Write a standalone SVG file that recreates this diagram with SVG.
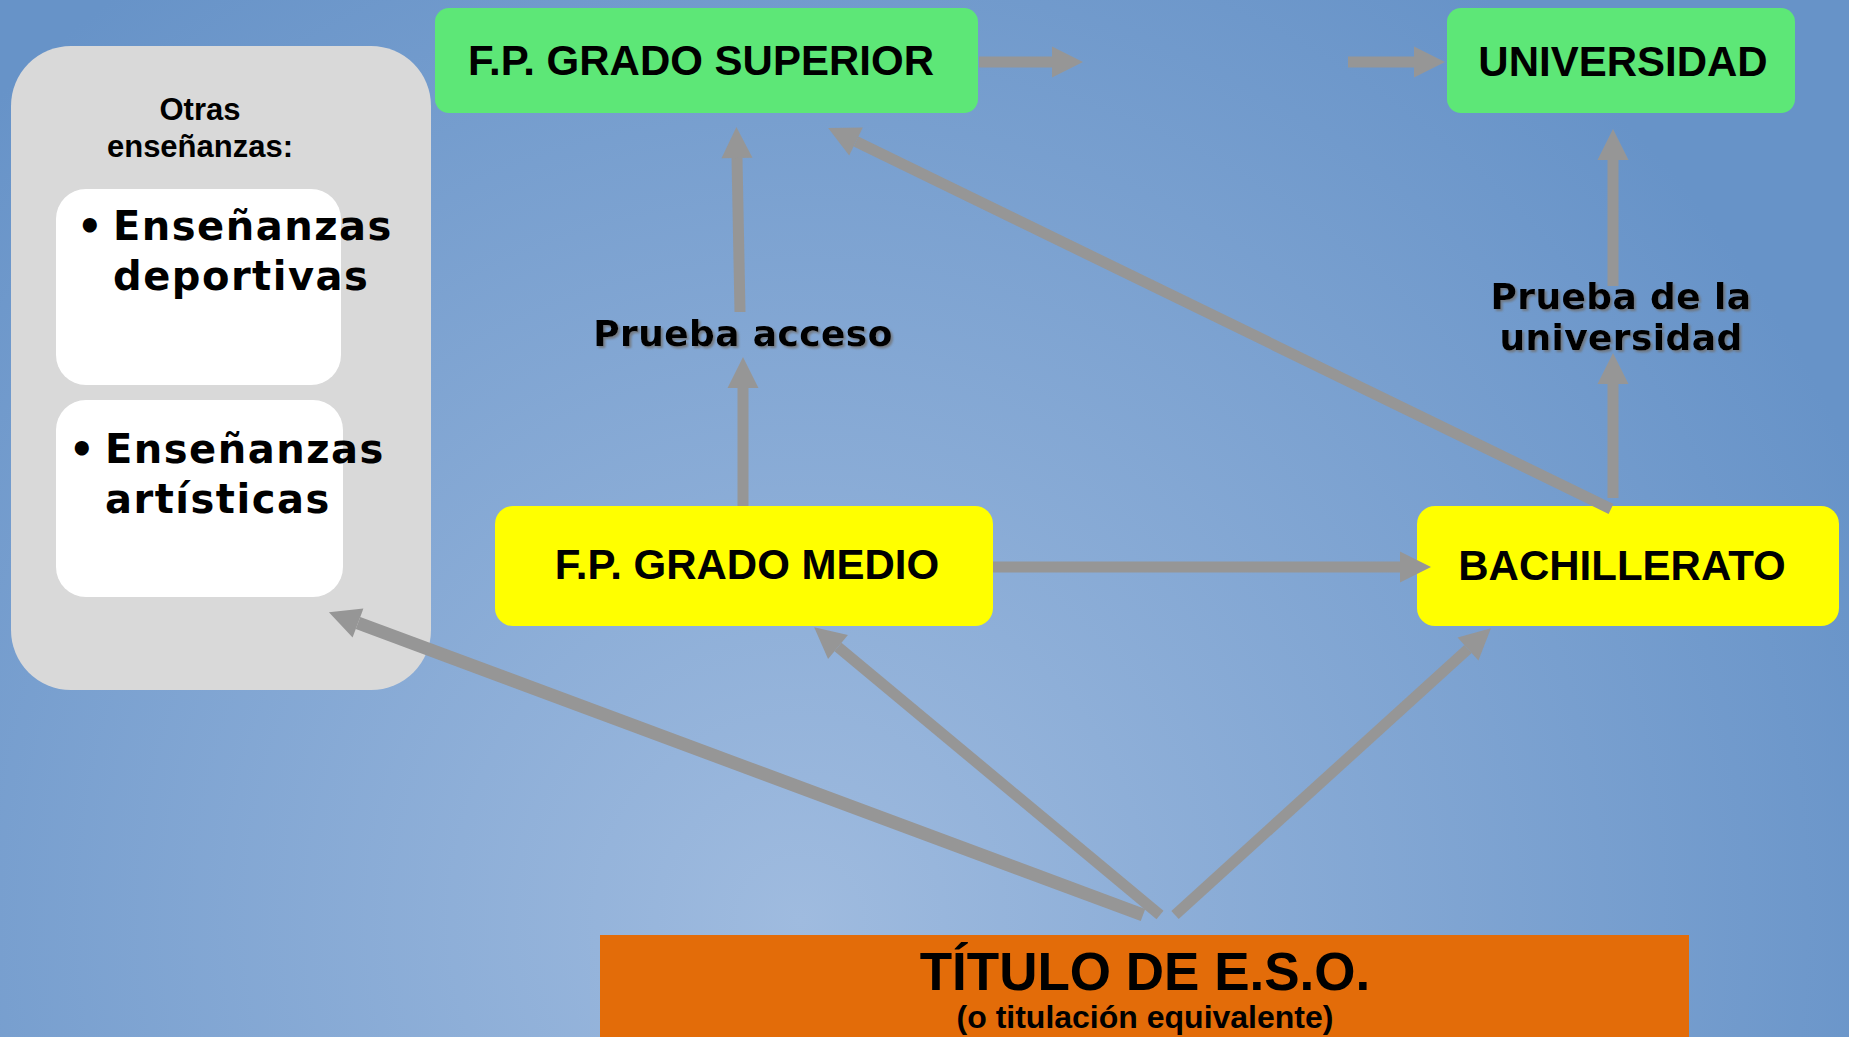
<svg xmlns="http://www.w3.org/2000/svg" width="1849" height="1037" viewBox="0 0 1849 1037">
<defs>
<radialGradient id="bg" gradientUnits="userSpaceOnUse" cx="800" cy="920" r="1150">
<stop offset="0" stop-color="#9fbbdf"/>
<stop offset="1" stop-color="#6793c8"/>
</radialGradient>
<marker id="ah" markerUnits="userSpaceOnUse" markerWidth="32" markerHeight="32" refX="0" refY="15.5" orient="auto" overflow="visible">
<path d="M0,0 L31,15.5 L0,31 Z" fill="#969696"/>
</marker>
<filter id="sh" x="-10%" y="-30%" width="120%" height="160%">
<feDropShadow dx="2" dy="2" stdDeviation="1.2" flood-color="#6f6f6f" flood-opacity="0.8"/>
</filter>
<style>
.box{font-family:"Liberation Sans",Arial,sans-serif;font-weight:bold;fill:#000;text-anchor:middle}
.lbl{font-family:"DejaVu Sans",Verdana,sans-serif;font-weight:bold;fill:#000;font-size:36px;letter-spacing:0.4px;text-anchor:middle}
.bul{font-family:"DejaVu Sans",Verdana,sans-serif;font-weight:bold;fill:#000;font-size:40px;letter-spacing:1.5px}
.con line{stroke:#969696;stroke-width:11;fill:none;marker-end:url(#ah)}
</style>
</defs>
<rect x="0" y="0" width="1849" height="1037" fill="url(#bg)"/>

<g id="otras">
<rect x="11" y="46" width="420" height="644" rx="60" ry="60" fill="#d9d9d9"/>
<text class="box" font-size="31" x="200" y="120">Otras</text>
<text class="box" font-size="31" x="200" y="157">enseñanzas:</text>
</g>
<g id="deportivas">
<rect x="56" y="189" width="285" height="196" rx="30" ry="30" fill="#ffffff"/>
<text class="bul" x="77" y="240">•</text>
<text class="bul" x="113" y="240">Enseñanzas</text>
<text class="bul" x="113" y="290">deportivas</text>
</g>
<g id="artisticas">
<rect x="56" y="400" width="287" height="197" rx="30" ry="30" fill="#ffffff"/>
<text class="bul" x="69" y="463">•</text>
<text class="bul" x="105" y="463">Enseñanzas</text>
<text class="bul" x="105" y="513">artísticas</text>
</g>

<g id="grado-superior">
<rect x="435" y="8" width="543" height="105" rx="14" ry="14" fill="#5de777"/>
<text class="box" font-size="42" x="701" y="75">F.P. GRADO SUPERIOR</text>
</g>
<g id="universidad">
<rect x="1447" y="8" width="348" height="105" rx="14" ry="14" fill="#5de777"/>
<text class="box" font-size="42" x="1623" y="76">UNIVERSIDAD</text>
</g>
<g id="grado-medio">
<rect x="495" y="506" width="498" height="120" rx="18" ry="18" fill="#ffff00"/>
<text class="box" font-size="42" x="747" y="579">F.P. GRADO MEDIO</text>
</g>
<g id="bachillerato">
<rect x="1417" y="506" width="422" height="120" rx="18" ry="18" fill="#ffff00"/>
<text class="box" font-size="42" x="1622" y="580">BACHILLERATO</text>
</g>
<g id="eso">
<rect x="600" y="935" width="1089" height="110" fill="#e36c09"/>
<text class="box" font-size="53" x="1145" y="990">TÍTULO DE E.S.O.</text>
<text class="box" font-size="32" x="1145" y="1028">(o titulación equivalente)</text>
</g>

<g id="prueba-acceso">
<text class="lbl" x="743" y="346" filter="url(#sh)">Prueba acceso</text>
</g>
<g id="prueba-universidad">
<text class="lbl" x="1621" y="309" filter="url(#sh)">Prueba de la</text>
<text class="lbl" x="1621" y="350" filter="url(#sh)">universidad</text>
</g>

<g id="connectors" class="con">
<line x1="979" y1="62" x2="1052" y2="62"/>
<line x1="1348" y1="62" x2="1414" y2="62"/>
<line x1="740" y1="312" x2="737" y2="158"/>
<line x1="743" y1="506" x2="743" y2="388"/>
<line x1="993" y1="567" x2="1400" y2="567"/>
<line x1="1613" y1="498" x2="1613" y2="384"/>
<line x1="1613" y1="286" x2="1613" y2="160"/>
<line x1="1611" y1="509" x2="856" y2="141.5"/>
<line x1="1143" y1="915" x2="358" y2="623" style="stroke-width:13"/>
<line x1="1160" y1="915" x2="838" y2="647"/>
<line x1="1175" y1="915" x2="1468" y2="649"/>
</g>
</svg>
